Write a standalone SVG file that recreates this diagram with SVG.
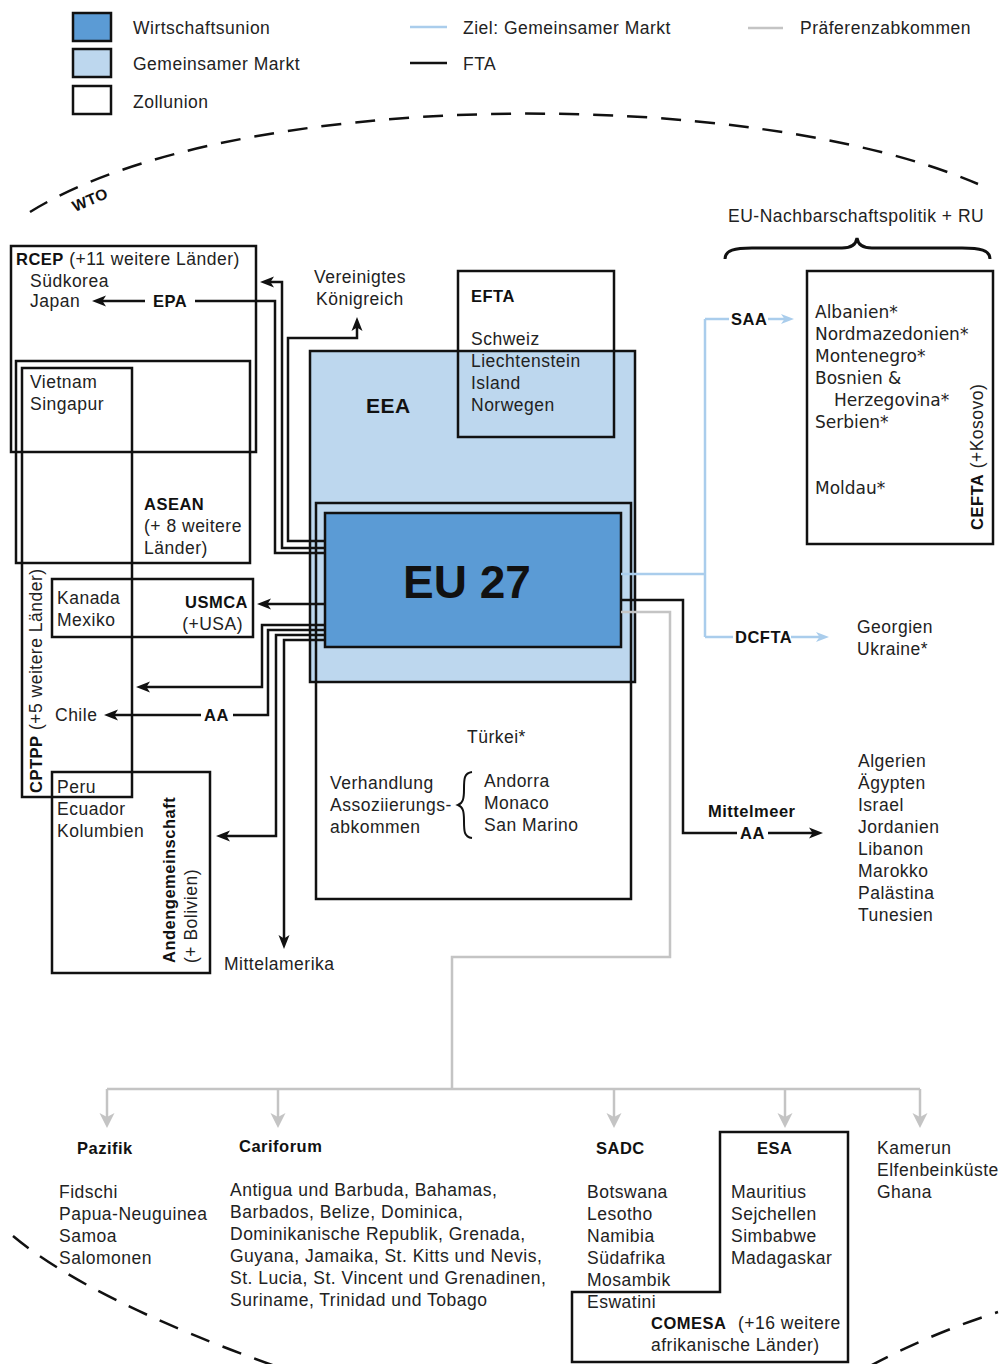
<svg xmlns="http://www.w3.org/2000/svg" width="1001" height="1364" viewBox="0 0 1001 1364">
<style>
text{font-family:"Liberation Sans",Arial,sans-serif;font-size:17.5px;letter-spacing:0.5px;fill:#222}
.b{font-weight:bold;fill:#111;font-size:16.5px}
.box{stroke:#111;stroke-width:2.5}
.c{fill:none;stroke:#111;stroke-width:2.5}
.cb{fill:none;stroke:#aacdec;stroke-width:2.5}
.cg{fill:none;stroke:#c4c4c4;stroke-width:2.5}
.dash{fill:none;stroke:#111;stroke-width:2.5;stroke-dasharray:20 14}
.ce{font-family:"DejaVu Sans",Verdana,sans-serif;font-size:17px;letter-spacing:0}
</style>
<defs>
<marker id="a" markerUnits="userSpaceOnUse" markerWidth="16" markerHeight="14" refX="9" refY="7" orient="auto"><path d="M0,1.5 L14,7 L0,12.5 L3.5,7z" fill="#111"/></marker>
<marker id="ab" markerUnits="userSpaceOnUse" markerWidth="16" markerHeight="14" refX="8" refY="7" orient="auto"><path d="M0,2 L13,7 L0,12 L3.5,7z" fill="#aacdec"/></marker>
<marker id="ag" markerUnits="userSpaceOnUse" markerWidth="17" markerHeight="16" refX="10" refY="8" orient="auto"><path d="M0,0.5 L15,8 L0,15.5 L4,8z" fill="#c4c4c4"/></marker>
</defs>
<rect width="1001" height="1364" fill="#fff"/>

<g id="legend">
<rect x="73" y="13" width="38" height="28" fill="#5b9bd5" class="box"/>
<rect x="73" y="49" width="38" height="28" fill="#bdd7ee" class="box"/>
<rect x="73" y="86" width="38" height="28" fill="#fff" class="box"/>
<text x="133" y="34">Wirtschaftsunion</text>
<text x="133" y="70">Gemeinsamer Markt</text>
<text x="133" y="108">Zollunion</text>
<line x1="410" y1="27" x2="447" y2="27" class="cb"/>
<line x1="410" y1="63" x2="447" y2="63" class="c"/>
<text x="463" y="34">Ziel: Gemeinsamer Markt</text>
<text x="463" y="70">FTA</text>
<line x1="748" y1="28" x2="783" y2="28" class="cg"/>
<text x="800" y="34">Präferenzabkommen</text>
</g>

<g id="wto">
<path d="M30,212 C230,88 745,84 978,184" class="dash"/>
<path d="M13,1236 Q90,1300 275,1366" class="dash"/>
<path d="M870,1366 Q930,1334 998,1312" class="dash"/>
<text class="b" transform="translate(75,212) rotate(-23)" style="font-size:15.5px">WTO</text>
</g>

<g id="eea">
<rect x="310" y="351" width="325" height="331" fill="#bdd7ee" class="box"/>
<text class="b" x="366" y="413" style="font-size:21px">EEA</text>
</g>
<g id="efta">
<rect x="458" y="271" width="156" height="166" fill="none" class="box"/>
<text class="b" x="471" y="302">EFTA</text>
<text x="471" y="345">Schweiz</text>
<text x="471" y="367">Liechtenstein</text>
<text x="471" y="389">Island</text>
<text x="471" y="411">Norwegen</text>
</g>
<g id="tuerkei">
<rect x="316" y="503" width="315" height="396" fill="none" class="box"/>
<text x="467" y="743">Türkei*</text>
<text x="330" y="789">Verhandlung</text>
<text x="330" y="811">Assoziierungs-</text>
<text x="330" y="833">abkommen</text>
<path d="M472,772 C464,773 464,779 464,789 C464,799 463,803 458,805 C463,807 464,811 464,821 C464,831 464,837 472,838" fill="none" stroke="#111" stroke-width="2"/>
<text x="484" y="787">Andorra</text>
<text x="484" y="809">Monaco</text>
<text x="484" y="831">San Marino</text>
</g>
<g id="eu">
<rect x="325" y="513" width="296" height="134" fill="#5b9bd5" class="box"/>
<text class="b" x="467" y="598" text-anchor="middle" style="font-size:46px;letter-spacing:0">EU 27</text>
</g>

<g id="rcep">
<rect x="11" y="246" width="245" height="206" fill="none" class="box"/>
<text x="16" y="265"><tspan class="b">RCEP</tspan> (+11 weitere Länder)</text>
<text x="30" y="287">Südkorea</text>
<text x="30" y="307">Japan</text>
</g>
<g id="asean">
<rect x="16" y="361" width="234" height="202" fill="none" class="box"/>
<text class="b" x="144" y="510">ASEAN</text>
<text x="144" y="532">(+ 8 weitere</text>
<text x="144" y="554">Länder)</text>
</g>
<g id="cptpp">
<rect x="22" y="368" width="110" height="429" fill="none" class="box"/>
<text x="30" y="388">Vietnam</text>
<text x="30" y="410">Singapur</text>
<text transform="translate(42,793) rotate(-90)"><tspan class="b">CPTPP</tspan> (+5 weitere Länder)</text>
</g>
<g id="usmca">
<rect x="52" y="579" width="201" height="58" fill="none" class="box"/>
<text x="57" y="604">Kanada</text>
<text x="57" y="626">Mexiko</text>
<text class="b" x="248" y="608" text-anchor="end">USMCA</text>
<text x="243" y="630" text-anchor="end">(+USA)</text>
</g>
<g id="chile"><text x="55" y="721">Chile</text></g>
<g id="anden">
<rect x="52" y="772" width="158" height="201" fill="none" class="box"/>
<text x="57" y="793">Peru</text>
<text x="57" y="815">Ecuador</text>
<text x="57" y="837">Kolumbien</text>
<text class="b" transform="translate(175,963) rotate(-90)">Andengemeinschaft</text>
<text transform="translate(197,963) rotate(-90)">(+ Bolivien)</text>
</g>
<g id="mittelamerika"><text x="224" y="970">Mittelamerika</text></g>
<g id="uk">
<text x="314" y="283">Vereinigtes</text>
<text x="316" y="305">Königreich</text>
</g>

<g id="nachbarschaft">
<text x="728" y="222">EU-Nachbarschaftspolitik + RU</text>
<path d="M725,259 C725,250 735,248 752,248 L842,248 C851,248 856,245 857,238 C858,245 863,248 872,248 L962,248 C980,248 990,250 990,259" fill="none" stroke="#111" stroke-width="3"/>
</g>
<g id="cefta">
<rect x="807" y="271" width="186" height="273" fill="none" class="box"/>
<text class="ce" x="815" y="318">Albanien*</text>
<text class="ce" x="815" y="340">Nordmazedonien*</text>
<text class="ce" x="815" y="362">Montenegro*</text>
<text class="ce" x="815" y="384">Bosnien &amp;</text>
<text class="ce" x="834" y="406">Herzegovina*</text>
<text class="ce" x="815" y="428">Serbien*</text>
<text class="ce" x="815" y="494">Moldau*</text>
<text transform="translate(983,530) rotate(-90)"><tspan class="b">CEFTA</tspan> (+Kosovo)</text>
</g>
<g id="dcfta-laender">
<text x="857" y="633">Georgien</text>
<text x="857" y="655">Ukraine*</text>
</g>
<g id="mittelmeer-laender">
<text x="858" y="767">Algerien</text>
<text x="858" y="789">Ägypten</text>
<text x="858" y="811">Israel</text>
<text x="858" y="833">Jordanien</text>
<text x="858" y="855">Libanon</text>
<text x="858" y="877">Marokko</text>
<text x="858" y="899">Palästina</text>
<text x="858" y="921">Tunesien</text>
</g>

<g id="pazifik">
<text class="b" x="77" y="1154">Pazifik</text>
<text x="59" y="1198">Fidschi</text>
<text x="59" y="1220">Papua-Neuguinea</text>
<text x="59" y="1242">Samoa</text>
<text x="59" y="1264">Salomonen</text>
</g>
<g id="cariforum">
<text class="b" x="239" y="1152">Cariforum</text>
<text x="230" y="1196">Antigua und Barbuda, Bahamas,</text>
<text x="230" y="1218">Barbados, Belize, Dominica,</text>
<text x="230" y="1240">Dominikanische Republik, Grenada,</text>
<text x="230" y="1262">Guyana, Jamaika, St. Kitts und Nevis,</text>
<text x="230" y="1284">St. Lucia, St. Vincent und Grenadinen,</text>
<text x="230" y="1306">Suriname, Trinidad und Tobago</text>
</g>
<g id="sadc">
<text class="b" x="596" y="1154">SADC</text>
<text x="587" y="1198">Botswana</text>
<text x="587" y="1220">Lesotho</text>
<text x="587" y="1242">Namibia</text>
<text x="587" y="1264">Südafrika</text>
<text x="587" y="1286">Mosambik</text>
<text x="587" y="1308">Eswatini</text>
</g>
<g id="esa-comesa">
<path d="M720,1132 H848 V1362 H572 V1292 H720 Z" fill="none" class="box"/>
<text class="b" x="757" y="1154">ESA</text>
<text x="731" y="1198">Mauritius</text>
<text x="731" y="1220">Sejchellen</text>
<text x="731" y="1242">Simbabwe</text>
<text x="731" y="1264">Madagaskar</text>
<text class="b" x="651" y="1329">COMESA</text>
<text x="738" y="1329">(+16 weitere</text>
<text x="651" y="1351">afrikanische Länder)</text>
</g>
<g id="westafrika">
<text x="877" y="1154">Kamerun</text>
<text x="877" y="1176">Elfenbeinküste</text>
<text x="877" y="1198">Ghana</text>
</g>

<g id="connectors">
<path d="M325,548 H282 V282 H265" class="c" marker-end="url(#a)"/>
<path d="M325,553 H275 V301 H195" class="c"/>
<path d="M145,301 H97" class="c" marker-end="url(#a)"/>
<text class="b" x="153" y="307">EPA</text>
<path d="M325,541 H288 V338 H357 V322" class="c" marker-end="url(#a)"/>
<path d="M325,604 H262" class="c" marker-end="url(#a)"/>
<path d="M325,625 H262 V687 H141" class="c" marker-end="url(#a)"/>
<path d="M325,630 H268 V715 H233" class="c"/>
<path d="M201,715 H109" class="c" marker-end="url(#a)"/>
<text class="b" x="204" y="721">AA</text>
<path d="M325,635 H276 V836 H221" class="c" marker-end="url(#a)"/>
<path d="M325,640 H284 V944" class="c" marker-end="url(#a)"/>

<path d="M621,574 H705" class="cb"/>
<path d="M705,319 V637" class="cb"/>
<path d="M705,319 H729" class="cb"/>
<path d="M768,319 H789" class="cb" marker-end="url(#ab)"/>
<text class="b" x="731" y="325">SAA</text>
<path d="M705,637 H733" class="cb"/>
<path d="M791,637 H824" class="cb" marker-end="url(#ab)"/>
<text class="b" x="735" y="643">DCFTA</text>

<path d="M621,600 H683 V833 H737" class="c"/>
<path d="M768,833 H818" class="c" marker-end="url(#a)"/>
<text class="b" x="708" y="817">Mittelmeer</text>
<text class="b" x="740" y="839">AA</text>

<path d="M621,612 H670 V957 H452 V1089" class="cg"/>
<path d="M107,1089 H920" class="cg"/>
<path d="M107,1089 V1123" class="cg" marker-end="url(#ag)"/>
<path d="M278,1089 V1123" class="cg" marker-end="url(#ag)"/>
<path d="M614,1089 V1123" class="cg" marker-end="url(#ag)"/>
<path d="M785,1089 V1123" class="cg" marker-end="url(#ag)"/>
<path d="M920,1089 V1123" class="cg" marker-end="url(#ag)"/>
</g>
</svg>
